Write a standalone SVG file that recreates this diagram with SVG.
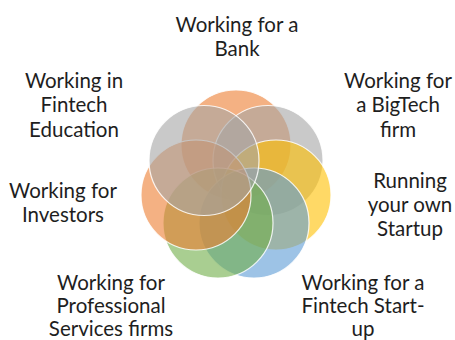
<svg xmlns="http://www.w3.org/2000/svg" width="455" height="340" viewBox="0 0 455 340">
  <style>
    .petal { stroke: #ffffff; stroke-width: 1.2; stroke-opacity: 0.85; }
    .orange { fill: #ED7D31; fill-opacity: 0.6; }
    .gray { fill: #A5A5A5; fill-opacity: 0.6; }
    .gold { fill: #FFC000; fill-opacity: 0.6; }
    .blue { fill: #5B9BD5; fill-opacity: 0.6; }
    .green { fill: #70AD47; fill-opacity: 0.6; }
    .label { font-family: Lato, "Open Sans", "Liberation Sans", sans-serif; font-size: 20.5px; fill: #1e1e1e; text-anchor: middle; }
  </style>
  <rect width="455" height="340" fill="#ffffff"/>

  <!-- seven overlapping circles arranged around (236,186) -->
  <g id="circles">
    <circle id="c-bank" class="petal orange" cx="236" cy="145" r="55"/>
    <circle id="c-bigtech" class="petal gray" cx="268" cy="160.5" r="55"/>
    <circle id="c-startup" class="petal gold" cx="276" cy="195" r="55"/>
    <circle id="c-fintech" class="petal blue" cx="254" cy="223" r="55"/>
    <circle id="c-prof" class="petal green" cx="218" cy="223" r="55"/>
    <circle id="c-investors" class="petal orange" cx="196" cy="195" r="55"/>
    <circle id="c-education" class="petal gray" cx="204" cy="160.5" r="55"/>
  </g>

  <g id="label-bank">
    <text class="label" x="237" y="32">Working for a</text>
    <text class="label" x="237" y="56">Bank</text>
  </g>
  <g id="label-education">
    <text class="label" x="74" y="87.5">Working in</text>
    <text class="label" x="74" y="112">Fintech</text>
    <text class="label" x="74" y="136.5">Education</text>
  </g>
  <g id="label-bigtech">
    <text class="label" x="398" y="87.5">Working for</text>
    <text class="label" x="398" y="112">a BigTech</text>
    <text class="label" x="398" y="136.5">firm</text>
  </g>
  <g id="label-investors">
    <text class="label" x="63" y="198">Working for</text>
    <text class="label" x="63" y="222">Investors</text>
  </g>
  <g id="label-startup">
    <text class="label" x="410" y="188">Running</text>
    <text class="label" x="410" y="212">your own</text>
    <text class="label" x="410" y="236">Startup</text>
  </g>
  <g id="label-prof">
    <text class="label" x="111" y="290">Working for</text>
    <text class="label" x="111" y="313">Professional</text>
    <text class="label" x="111" y="336">Services firms</text>
  </g>
  <g id="label-fintech">
    <text class="label" x="363" y="290">Working for a</text>
    <text class="label" x="363" y="313">Fintech Start-</text>
    <text class="label" x="363" y="336">up</text>
  </g>
</svg>
